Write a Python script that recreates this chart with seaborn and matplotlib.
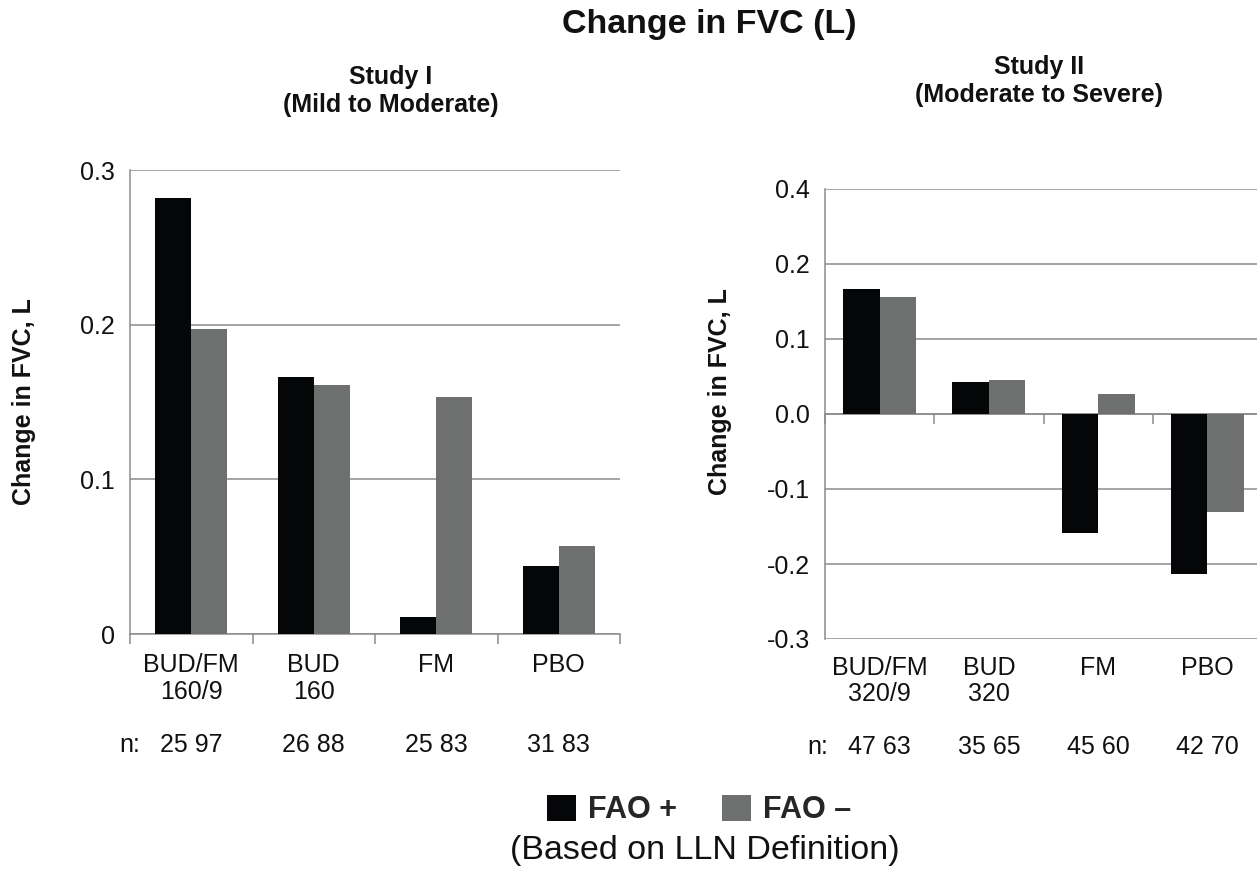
import numpy as np
import pandas as pd
import matplotlib
matplotlib.use("Agg")
import matplotlib.pyplot as plt
import seaborn as sns

# ---------------- data ----------------
groups = ["FAO +", "FAO \u2013"]

categories_1 = ["BUD/FM\n160/9", "BUD\n160", "FM", "PBO"]
fao_pos_1 = [0.282, 0.166, 0.011, 0.044]
fao_neg_1 = [0.197, 0.161, 0.153, 0.057]
n_1 = ["25 97", "26 88", "25 83", "31 83"]
yticks_1 = [0.0, 0.1, 0.2, 0.3]
ytick_labels_1 = ["0", "0.1", "0.2", "0.3"]

categories_2 = ["BUD/FM\n320/9", "BUD\n320", "FM", "PBO"]
fao_pos_2 = [0.166, 0.043, -0.159, -0.213]
fao_neg_2 = [0.156, 0.045, 0.026, -0.131]
n_2 = ["47 63", "35 65", "45 60", "42 70"]
yticks_2 = [-0.3, -0.2, -0.1, 0.0, 0.1, 0.2, 0.3]
ytick_labels_2 = ["-0.3", "-0.2", "-0.1", "0.0", "0.1", "0.2", "0.4"]

title = "Change in FVC (L)"
study_1 = "Study I\n(Mild to Moderate)"
study_2 = "Study II\n(Moderate to Severe)"
ylabel = "Change in FVC, L"
note = "(Based on LLN Definition)"

# ---------------- style ----------------
sns.set_theme(style="white")
plt.rcParams["font.family"] = ["Liberation Sans", "DejaVu Sans"]

BLACK = "#050608"
GRAY = "#6d706f"
GRID = "#8c8c8c"
TEXT = "#111111"
palette = {groups[0]: BLACK, groups[1]: GRAY}

W, H = 1257, 869
fig = plt.figure(figsize=(W / 100, H / 100), dpi=100)
fig.patch.set_facecolor("white")


def px_axes(x0, y_top, x1, y_bot):
    return fig.add_axes([x0 / W, 1 - y_bot / H, (x1 - x0) / W, (y_bot - y_top) / H])


ax1 = px_axes(130, 170, 620, 634)
ax2 = px_axes(825, 189, 1262, 639)


def make_df(cats, pos, neg):
    return pd.DataFrame({
        "category": list(cats) * 2,
        "group": [groups[0]] * len(cats) + [groups[1]] * len(cats),
        "value": list(pos) + list(neg),
    })


def draw(ax, cats, pos, neg, ns, yticks, ylabels, width, ylim, label_pad,
         ylab_xy, n_x):
    df = make_df(cats, pos, neg)
    sns.barplot(data=df, x="category", y="value", hue="group", hue_order=groups,
                palette=palette, width=width, gap=0, saturation=1, linewidth=0,
                errorbar=None, ax=ax)
    handles, labels = ax.get_legend_handles_labels()
    if ax.get_legend() is not None:
        ax.get_legend().remove()
    ax.set_xlim(-0.5, len(cats) - 0.5)
    ax.set_ylim(*ylim)
    ax.set_yticks(yticks, labels=ylabels)
    ax.set_axisbelow(True)
    ax.yaxis.grid(True, color=GRID, linewidth=1.1)
    ax.xaxis.grid(False)
    for s in ["top", "right", "bottom"]:
        ax.spines[s].set_visible(False)
    ax.spines["left"].set_color(GRID)
    ax.spines["left"].set_linewidth(1.1)
    ax.tick_params(axis="y", direction="out", length=6, width=1.1, color=GRID,
                   pad=5, labelsize=18, labelcolor=TEXT)
    ax.tick_params(axis="x", length=0, pad=label_pad, labelsize=18, labelcolor=TEXT)
    for t in ax.get_xticklabels():
        t.set_linespacing(1.12)
    ax.set_xlabel("")
    ax.set_ylabel(ylabel, fontsize=18, fontweight="bold", color=TEXT)
    ax.yaxis.set_label_coords(*ylab_xy)

    # category axis line at zero with boundary tick marks
    sec = ax.secondary_xaxis(0, transform=ax.transData)
    bounds = np.arange(len(cats) + 1) - 0.5
    sec.set_xticks(bounds, labels=[""] * len(bounds))
    sec.tick_params(direction="out", length=7, width=1.1, color=GRID)
    for s in sec.spines.values():
        s.set_color(GRID)
        s.set_linewidth(1.1)

    # n row
    trans = ax.get_xaxis_transform()
    ax.text(n_x, -0.24, "n:", transform=trans, ha="center", va="center",
            fontsize=18, color=TEXT)
    for i, n in enumerate(ns):
        ax.text(i, -0.24, n, transform=trans, ha="center", va="center",
                fontsize=18, color=TEXT)
    return handles, labels


handles, labels = draw(ax1, categories_1, fao_pos_1, fao_neg_1, n_1, yticks_1,
                       ytick_labels_1, 0.59, (0, 0.3), 14, (-0.192, 0.5), -0.5)
draw(ax2, categories_2, fao_pos_2, fao_neg_2, n_2, yticks_2, ytick_labels_2,
     0.67, (-0.3, 0.3), 12, (-0.213, 0.55), -0.57)

# titles
fig.text(709 / W, 1 - 25 / H, title, ha="center", va="center", fontsize=24.5,
         fontweight="bold", color=TEXT)
fig.text(391 / W, 1 - 91 / H, study_1, ha="center", va="center", fontsize=18,
         fontweight="bold", linespacing=1.25, color=TEXT)
fig.text(1039 / W, 1 - 81 / H, study_2, ha="center", va="center", fontsize=18,
         fontweight="bold", linespacing=1.25, color=TEXT)

# legend
fig.legend(handles, labels, loc="center", bbox_to_anchor=(699 / W, 1 - 810 / H),
           ncol=2, frameon=False, prop={"weight": "bold", "size": 22},
           handlelength=0.95, handleheight=0.95, handletextpad=0.4,
           columnspacing=1.45, borderaxespad=0, borderpad=0)
fig.text(705 / W, 1 - 851 / H, note, ha="center", va="center", fontsize=24.5,
         color=TEXT)

fig.savefig("out.png", dpi=100, facecolor="white")
